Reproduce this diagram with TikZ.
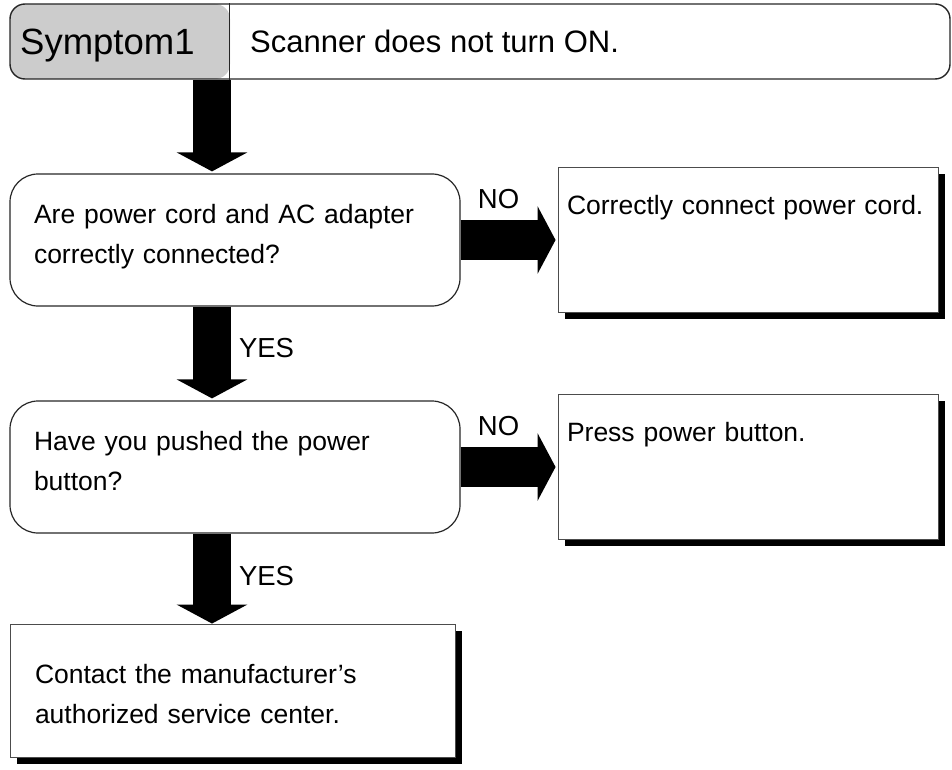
\documentclass[tikz,border=0pt]{standalone}
\usepackage{fontspec}
\setmainfont{Liberation Sans}
\usetikzlibrary{arrows.meta,shadows}

\begin{document}
\begin{tikzpicture}[x=1pt, y=-1pt,
    hdrbox/.style={draw=black!85, line width=1.4pt, rounded corners=15pt,
        minimum width=940pt, minimum height=75pt, inner sep=0pt},
    askbox/.style={draw=black!85, line width=1.2pt, rounded corners=28pt,
        inner xsep=24pt, inner ysep=21pt, text width=402pt, align=left,
        text height=28pt, text depth=62pt, font=\fontsize{26.5}{40}\selectfont},
    fixbox/.style={draw=black!70, line width=0.9pt, fill=white,
        inner xsep=9pt, inner ysep=19pt, text width=362pt, align=left,
        text height=28pt, text depth=79pt, font=\fontsize{26.5}{40}\selectfont,
        drop shadow={shadow xshift=7pt, shadow yshift=-7pt, fill=black, opacity=1}},
    downarrow/.style={line width=38pt, -{Triangle[width=70pt, length=19pt]}},
    sidearrow/.style={line width=40pt, -{Triangle[width=67pt, length=18pt]}},
    answer/.style={inner sep=0pt, outer sep=0pt, font=\fontsize{27.5}{30}\selectfont}
  ]
    \definecolor{symgray}{RGB}{204, 204, 204}
    \useasboundingbox (0,0) rectangle (952,770);

    % Symptom header
    \node[hdrbox, path picture={
        \fill[symgray] (path picture bounding box.north west)
            rectangle ([xshift=220pt]path picture bounding box.south west);
    }] (hdr) at (480,41.5) {};
    \draw[line width=1.2pt, black!85] ([xshift=220pt]hdr.north west) -- ([xshift=220pt]hdr.south west);
    \node[anchor=base west, inner sep=0pt, font=\fontsize{36.5}{40}\selectfont] (sym) at (20,55) {Symptom1};
    \node[anchor=base west, inner sep=0pt, font=\fontsize{31}{36}\selectfont] (title) at (250,53) {Scanner does not turn ON.};

    % Questions and answers
    \coordinate (spine) at (212,0);
    \node[askbox] (q1) at (235,240) {Are power cord and AC adapter\\correctly connected?};
    \node[fixbox] (a1) at (748,239.5) {Correctly connect power cord.};
    \node[askbox] (q2) at (235,467) {Have you pushed the power\\button?};
    \node[fixbox] (a2) at (748,466.5) {Press power button.};
    \node[fixbox, inner xsep=25pt, inner ysep=24pt, text width=395pt,
        text height=35pt, text depth=50pt] (svc) at (232.5,690.5)
        {Contact the manufacturer’s\\authorized service center.};

    % Flow arrows
    \draw[downarrow] (hdr.south -| spine) -- ([yshift=2pt]q1.north -| spine);
    \draw[downarrow] (q1.south -| spine) -- ([yshift=2pt]q2.north -| spine)
        node[answer, pos=0.45, anchor=west, xshift=27pt] {YES};
    \draw[downarrow] (q2.south -| spine) -- (svc.north -| spine)
        node[answer, pos=0.47, anchor=west, xshift=27pt] {YES};
    \draw[sidearrow] (q1.east) -- ([xshift=-2pt]q1.east -| a1.west)
        node[answer, pos=0.4, yshift=41pt] {NO};
    \draw[sidearrow] (q2.east) -- ([xshift=-2pt]q2.east -| a2.west)
        node[answer, pos=0.4, yshift=41pt] {NO};

\end{tikzpicture}
\end{document}
